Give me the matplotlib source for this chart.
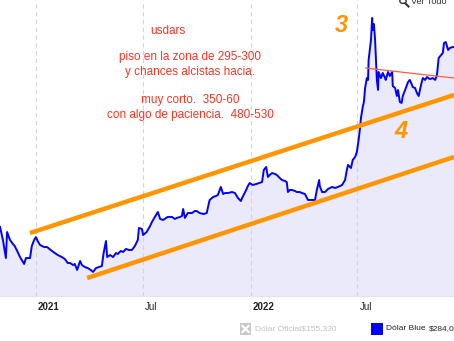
import numpy as np
import pandas as pd
import matplotlib
matplotlib.use("Agg")
import matplotlib.pyplot as plt
from matplotlib.patches import Rectangle
from matplotlib.lines import Line2D

plt.rcParams['font.family'] = ['Liberation Sans', 'DejaVu Sans']

# dias desde 2021-01-01 y cotizacion del dolar blue
dias = [-61, -56, -51, -49, -44, -39, -36, -31, -27, -24, -20, -17, -14, -10, -7, -3,
        0, 3, 7, 14, 19, 25, 32, 37, 44, 49, 54, 58, 63, 66, 70, 75, 78, 83, 88, 93,
        97, 102, 107, 112, 115, 119, 121, 126, 131, 136, 139, 144, 148, 153, 158, 163,
        168, 173, 175, 180, 182, 188, 194, 197, 202, 207, 211, 216, 221, 224, 231, 236,
        239, 245, 248, 250, 253, 258, 265, 270, 273, 278, 285, 290, 292, 295, 301, 306,
        309, 312, 314, 318, 321, 326, 333, 338, 343, 348, 351, 357, 360, 363, 368, 374,
        379, 384, 387, 391, 394, 397, 401, 406, 409, 414, 418, 423, 426, 428, 431, 435,
        440, 443, 448, 452, 457, 462, 465, 469, 474, 477, 481, 482, 486, 491, 496, 503,
        508, 513, 520, 525, 528, 530, 535, 538, 542, 545, 548, 550, 552, 555, 557, 559,
        562, 564, 565, 569, 571, 572, 574, 576, 577, 579, 581, 582, 586, 589, 593, 594,
        598, 601, 605, 606, 610, 613, 615, 618, 621, 623, 627, 632, 635, 638, 640, 644,
        647, 650, 654, 657, 661, 664, 669, 674, 678, 681, 684, 688, 691, 693, 696, 700,
        703, 708, 710]
blue = [172.6, 162.3, 148.0, 168.6, 162.3, 159.1, 157.5, 152.8, 148.8, 146.5, 143.3, 148.0,
        148.0, 148.0, 157.5, 162.3, 164.6, 161.5, 158.3, 156.7, 156.7, 154.4, 152.0, 150.4,
        148.8, 147.3, 144.1, 144.1, 142.5, 143.3, 138.6, 145.7, 142.5, 140.9, 140.1, 138.6,
        137.0, 140.1, 140.9, 141.7, 152.0, 161.5, 148.8, 150.4, 148.8, 152.0, 151.2, 153.6,
        152.8, 155.2, 154.4, 154.4, 157.5, 162.3, 171.8, 171.0, 166.2, 168.6, 173.4, 176.5,
        180.5, 184.4, 178.9, 178.1, 179.7, 180.5, 180.5, 178.9, 179.7, 180.5, 181.3, 186.8,
        179.7, 183.6, 183.6, 185.2, 185.2, 183.6, 182.8, 183.6, 187.6, 193.9, 196.3, 197.1,
        197.9, 201.8, 204.2, 198.6, 199.4, 199.4, 200.2, 199.4, 195.5, 193.1, 196.3, 201.8,
        205.0, 207.3, 205.8, 206.5, 207.3, 208.1, 217.6, 220.0, 212.1, 213.7, 215.2, 214.5,
        213.7, 211.3, 209.7, 208.9, 208.1, 200.2, 201.8, 201.8, 201.0, 200.2, 200.2, 199.4,
        198.6, 193.9, 193.9, 193.9, 193.9, 201.8, 209.7, 205.0, 200.2, 200.2, 202.6, 204.2,
        203.4, 204.2, 205.8, 209.7, 217.6, 221.6, 219.2, 225.5, 227.9, 231.8, 241.3, 249.2,
        258.7, 267.4, 271.4, 282.4, 290.3, 288.8, 304.6, 320.4, 337.8, 328.3, 333.0, 320.4,
        310.1, 288.8, 280.9, 295.1, 290.3, 294.3, 290.3, 288.8, 295.1, 291.9, 295.1, 284.0,
        282.4, 276.1, 280.9, 271.4, 270.6, 276.1, 280.9, 287.2, 288.8, 285.6, 283.2, 282.4,
        278.5, 276.1, 284.8, 290.3, 288.8, 291.1, 289.5, 290.3, 288.8, 292.7, 306.2, 308.5,
        310.1, 318.0, 318.8, 312.5, 314.1, 314.8, 314.8]

# lineas dibujadas a mano sobre el grafico
canal_sup_dias = [-10, 710]
canal_sup_vals = [167.8, 276.9]
canal_inf_dias = [87, 710]
canal_inf_vals = [132.2, 227.9]
resist_dias = [560, 710]
resist_vals = [298.2, 290.3]

tick_fechas = ['2021-01-01', '2021-07-01', '2022-01-01', '2022-07-01']
tick_labels = ['2021', 'Jul', '2022', 'Jul']

notas = ['usdars', 'piso en la zona de 295-300', 'y chances alcistas hacia.',
         'muy corto.  350-60', 'con algo de paciencia.  480-530']

base = pd.Timestamp('2021-01-01')
to_fecha = lambda d: base + pd.to_timedelta(np.asarray(d), unit='D')

W, H = 454, 341
fig = plt.figure(figsize=(W / 100, H / 100), dpi=100)
ax = fig.add_axes([0, (H - 296) / H, 1, 296 / H])

x = to_fecha(dias)
ax.fill_between(x, blue, 0, color='#eaeafb', lw=0)
ax.plot(x, blue, color='#0000ff', lw=1.4)

ax.plot(to_fecha(canal_sup_dias), canal_sup_vals, color='#ff9500', lw=3.2, solid_capstyle='butt')
ax.plot(to_fecha(canal_inf_dias), canal_inf_vals, color='#ff9500', lw=3.2, solid_capstyle='butt')
ax.plot(to_fecha(resist_dias), resist_vals, color='#ff5a4a', lw=0.9)

ax.set_xlim(to_fecha([-61])[0], to_fecha([710])[0])
ax.set_ylim(118, 352)

ax.set_xticks(pd.to_datetime(tick_fechas))
ax.set_xticklabels([])
ax.tick_params(length=0)
ax.set_yticks([])
ax.grid(axis='x', color='#d4d4d4', lw=0.8, linestyle=(0, (4, 3)))
for s in ['top', 'left', 'right']:
    ax.spines[s].set_visible(False)
ax.spines['bottom'].set_color('#e4e4e4')
ax.spines['bottom'].set_linewidth(0.8)

for f, lbl in zip(tick_fechas, tick_labels):
    ax.annotate(lbl, xy=(pd.Timestamp(f), 0), xycoords=('data', 'axes fraction'),
                xytext=(2, -11), textcoords='offset pixels', ha='left', va='center',
                fontsize=7, color='#222222',
                fontweight='bold' if lbl != 'Jul' else 'normal')

# anotaciones en rojo
def fx(px):
    return px / W

def fy(py):
    return 1 - py / H

red = '#ff3322'
pos = [(168, 31), (190, 57), (190, 72), (190, 100), (190, 115)]
for (px, py), t in zip(pos, notas):
    fig.text(fx(px), fy(py), t, color=red, fontsize=8.5, ha='center', va='center')

fig.text(fx(341), fy(25), '3', color='#ff9500', fontsize=17, ha='center', va='center',
         fontweight='bold', style='italic')
fig.text(fx(401), fy(131), '4', color='#ff9500', fontsize=17, ha='center', va='center',
         fontweight='bold', style='italic')

# "Ver Todo" arriba a la derecha
fig.text(fx(411), fy(2), 'Ver Todo', fontsize=6.5, color='#333333', ha='left', va='center')
fig.add_artist(plt.Circle((fx(403), fy(1)), 3.2 / W, transform=fig.transFigure,
                          fill=False, color='#333333', lw=1))
fig.add_artist(Line2D([fx(405.5), fx(408.5)], [fy(3.5), fy(6.5)], transform=fig.transFigure,
                      color='#333333', lw=1.5))

# leyenda
fig.add_artist(Rectangle((fx(240), fy(335)), 11 / W, 12 / H, transform=fig.transFigure,
                         color='#c8c8c8', lw=0))
fig.add_artist(Line2D([fx(242.5), fx(248.5)], [fy(326), fy(332)], transform=fig.transFigure,
                      color='white', lw=1.6))
fig.add_artist(Line2D([fx(242.5), fx(248.5)], [fy(332), fy(326)], transform=fig.transFigure,
                      color='white', lw=1.6))
fig.text(fx(255), fy(329), 'Dólar Oficial$155,330', fontsize=6, color='#c0c0c0',
         ha='left', va='center')
fig.add_artist(Rectangle((fx(371), fy(335)), 12 / W, 12 / H, transform=fig.transFigure,
                         color='#0000ff', lw=0))
fig.text(fx(386), fy(329), 'Dólar Blue', fontsize=6, color='#222222', ha='left', va='center')
fig.text(fx(429), fy(329), '$284,000', fontsize=6, color='#222222', ha='left', va='center')

fig.savefig('out.png', dpi=100)
